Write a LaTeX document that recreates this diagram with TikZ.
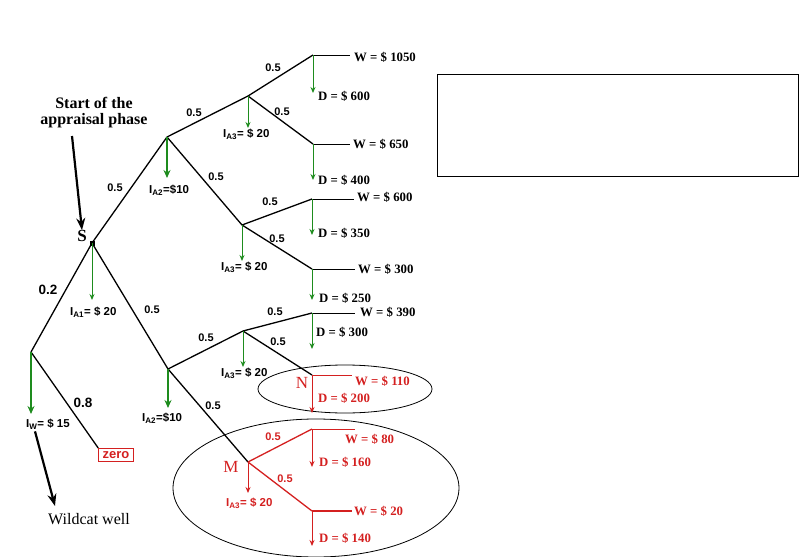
\documentclass[tikz,border=0pt]{standalone}
\usepackage{fontspec}
\setmainfont{Liberation Serif}
\setsansfont{Liberation Sans}
\usetikzlibrary{arrows.meta}
\definecolor{costgreen}{HTML}{1E8C1E}
\definecolor{casered}{HTML}{D42020}

\begin{document}
\begin{tikzpicture}[x=1pt, y=-1pt,
  every node/.style={inner sep=0pt},
  branch/.style={line width=1.3pt},
  redbranch/.style={line width=1.3pt, draw=casered},
  payoff/.style={line width=0.8pt},
  cost/.style={-{Stealth[length=6pt,width=5pt]}, draw=costgreen, line width=0.9pt},
  bigcost/.style={-{Stealth[length=8pt,width=7pt]}, draw=costgreen, line width=2.2pt},
  pointer/.style={-{Stealth[length=12pt,width=9pt]}, line width=2.2pt},
  prob/.style={font=\sffamily\bfseries\fontsize{11}{12}\selectfont},
  bigprob/.style={font=\sffamily\bfseries\fontsize{13.5}{15}\selectfont},
  val/.style={font=\bfseries\fontsize{12.8}{14}\selectfont, anchor=west},
  inv/.style={font=\sffamily\bfseries\fontsize{11.5}{12}\selectfont, anchor=west},
  title/.style={font=\bfseries\fontsize{16}{16}\selectfont, align=center},
  point/.style={font=\bfseries\fontsize{17}{17}\selectfont}
]
\useasboundingbox (0,0) rectangle (809,557);

% decision and chance points
\coordinate (S) at (92,243);
\coordinate (A2u) at (167,137);
\coordinate (A3uu) at (248,96);
\coordinate (A3ul) at (242,225);
\coordinate (A2l) at (168,369);
\coordinate (A3l) at (243,331);
\coordinate (M) at (248,462);
\coordinate (Wc) at (31,352);
% outcomes
\coordinate (L1) at (313,55);
\coordinate (L2) at (313,144);
\coordinate (L3) at (312,199);
\coordinate (L4) at (312,269);
\coordinate (L5) at (312,313);
\coordinate (N) at (312,375);
\coordinate (L7) at (312,429);
\coordinate (L8) at (312,511);

% ellipses and empty box
\draw[line width=0.8pt] (345,389) ellipse [x radius=87, y radius=24];
\draw[line width=0.8pt] (316,488) ellipse [x radius=143, y radius=69];
\node[draw, line width=0.9pt, minimum width=361pt, minimum height=102pt] (note) at (617.5,125) {};

\node[draw=casered, line width=0.8pt, inner xsep=4pt, inner ysep=3pt, text=casered,
  font=\sffamily\bfseries\fontsize{13}{13}\selectfont] (zero) at (116,455) {zero};

% tree
\draw[branch] (S) -- (A2u);
\draw[branch] (A2u) -- (A3uu);
\draw[branch] (A3uu) -- (L1);
\draw[branch] (A3uu) -- (L2);
\draw[branch] (A2u) -- (A3ul);
\draw[branch] (A3ul) -- (L3);
\draw[branch] (A3ul) -- (L4);
\draw[branch] (S) -- (Wc);
\draw[branch] (Wc) -- (zero.north west);
\draw[branch] (S) -- (A2l);
\draw[branch] (A2l) -- (A3l);
\draw[branch] (A3l) -- (L5);
\draw[branch] (A3l) -- (N);
\draw[branch] (A2l) -- (M);
\draw[redbranch] (M) -- (L7);
\draw[redbranch] (M) -- (L8);
\fill (S) ++(-2.5,-2.5) rectangle ++(5,5);

% probabilities
\node[prob] (p1) at (115,188) {0.5};
\node[prob] (p2) at (194,113) {0.5};
\node[prob] (p3) at (273,68) {0.5};
\node[prob] (p4) at (282,112) {0.5};
\node[prob] (p5) at (216,177) {0.5};
\node[prob] (p6) at (270,202) {0.5};
\node[prob] (p7) at (277,239) {0.5};
\node[bigprob] (p8) at (48,290) {0.2};
\node[prob] (p9) at (152,310) {0.5};
\node[prob] (p10) at (206,338) {0.5};
\node[prob] (p11) at (275,312) {0.5};
\node[prob] (p12) at (278,342) {0.5};
\node[prob] (p13) at (213,406) {0.5};
\node[bigprob] (p14) at (83,403) {0.8};
\node[prob, text=casered] (p15) at (273,437) {0.5};
\node[prob, text=casered] (p16) at (285,479) {0.5};

% investments
\draw[cost] (S) -- ++(0,57);
\node[inv] (iA1) at (70,312) {I\textsubscript{A1}= \$ 20};
\draw[bigcost] (A2u) -- ++(0,41);
\node[inv] (iA2u) at (149,190) {I\textsubscript{A2}=\$10};
\draw[cost] (A3uu) -- ++(0,32);
\node[inv] (iA3uu) at (223,134) {I\textsubscript{A3}= \$ 20};
\draw[cost] (A3ul) -- ++(0,36);
\node[inv] (iA3ul) at (221,267) {I\textsubscript{A3}= \$ 20};
\draw[bigcost] (A2l) -- ++(0,39);
\node[inv] (iA2l) at (142,418) {I\textsubscript{A2}=\$10};
\draw[cost] (A3l) -- ++(0,36);
\node[inv] (iA3l) at (221,373) {I\textsubscript{A3}= \$ 20};
\draw[cost, draw=casered] (M) -- ++(0,31);
\node[inv, text=casered] (iA3M) at (226,503) {I\textsubscript{A3}= \$ 20};
\draw[bigcost] (Wc) -- ++(0,62);
\node[inv] (iW) at (26,424) {I\textsubscript{W}= \$ 15};

% outcomes
\draw[payoff] (L1) -- ++(37,0);
\node[val] (w1) at (354,57) {W = \$ 1050};
\draw[cost] (L1) -- ++(0,38);
\node[val] (d1) at (318,96) {D = \$ 600};
\draw[payoff] (L2) -- ++(37,0);
\node[val] (w2) at (353,144) {W = \$ 650};
\draw[cost] (L2) -- ++(0,36);
\node[val] (d2) at (318,180) {D = \$ 400};
\draw[payoff] (L3) -- ++(42,0);
\node[val] (w3) at (357,197) {W = \$ 600};
\draw[cost] (L3) -- ++(0,36);
\node[val] (d3) at (318,233) {D = \$ 350};
\draw[payoff] (L4) -- ++(43,0);
\node[val] (w4) at (358,269) {W = \$ 300};
\draw[cost] (L4) -- ++(0,31);
\node[val] (d4) at (319,298) {D = \$ 250};
\draw[payoff] (L5) -- ++(43,0);
\node[val] (w5) at (360,312) {W = \$ 390};
\draw[cost] (L5) -- ++(0,36);
\node[val] (d5) at (316,332) {D = \$ 300};
\draw[payoff, draw=casered] (N) -- ++(40,0);
\node[val, text=casered] (w6) at (355,381) {W = \$ 110};
\draw[cost, draw=casered] (N) -- ++(0,38);
\node[val, text=casered] (d6) at (318,398) {D = \$ 200};
\draw[payoff, draw=casered] (L7) -- ++(43,0);
\node[val, text=casered] (w7) at (345,439) {W = \$ 80};
\draw[cost, draw=casered] (L7) -- ++(0,38);
\node[val, text=casered] (d7) at (319,462) {D = \$ 160};
\draw[payoff, draw=casered, line width=1.3pt] (L8) -- ++(40,0);
\node[val, text=casered] (w8) at (354,511) {W = \$ 20};
\draw[cost, draw=casered] (L8) -- ++(0,35);
\node[val, text=casered] (d8) at (319,538) {D = \$ 140};

% point names
\node[point] (sname) at (82,236) {S};
\node[point, font=\fontsize{17}{17}\selectfont, text=casered] (nname) at (302,383) {N};
\node[point, font=\fontsize{17}{17}\selectfont, text=casered] (mname) at (231,467) {M};

% annotations
\node[title] (start) at (94,113) {Start of the\\appraisal phase};
\draw[pointer] (72,136) -- (sname.north);
\node[font=\fontsize{16}{16}\selectfont] (wildcat) at (89,519) {Wildcat well};
\draw[pointer] (iW.south west) ++(9,2) coordinate (wtail) (wtail) -- (55,506);
\end{tikzpicture}
\end{document}
